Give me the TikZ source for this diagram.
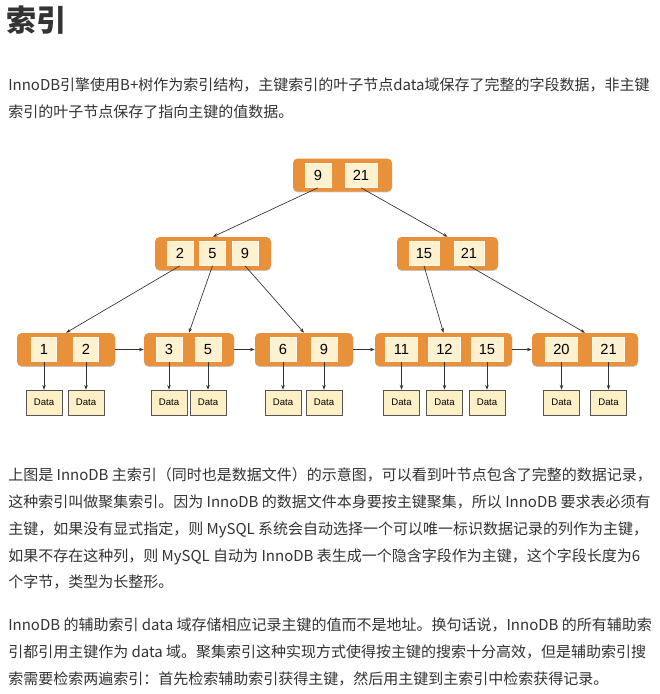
\documentclass[tikz,border=0pt]{standalone}
\usepackage{fontspec}
\setmainfont{Noto Sans CJK SC}
\newfontfamily\arialfont{Liberation Sans}
\usetikzlibrary{arrows.meta,shadows}
\definecolor{txt}{HTML}{333333}
\definecolor{org}{HTML}{E8913A}
\definecolor{cream}{HTML}{FEF1D0}
\definecolor{datafill}{HTML}{FDEFC6}
\definecolor{databorder}{HTML}{555555}
\definecolor{edge}{HTML}{333333}
\tikzset{
  orangebox/.style={fill=org, rounded corners=3.5pt, inner sep=0pt,
    minimum width=#1*0.75pt, minimum height=33*0.75pt,
    drop shadow={shadow xshift=0pt, shadow yshift=-0.7pt, opacity=0.3, fill=black!70}},
  cellbox/.style={fill=cream, draw=white!60!cream, line width=0.4pt, inner sep=0pt,
    minimum width=#1*0.75pt, minimum height=24*0.75pt,
    font=\arialfont\fontsize{11}{13}\selectfont, text=black},
  databox/.style={fill=datafill, draw=databorder, line width=0.5pt, inner sep=0pt,
    minimum width=36*0.75pt, minimum height=25*0.75pt,
    font=\arialfont\fontsize{7.2}{8}\selectfont, text=black},
  link/.style={draw=edge, line width=0.5pt, -{Stealth[length=3.5pt,width=2.6pt]}},
  txtline/.style={anchor=base west, inner sep=0pt, text=txt, font=\fontsize{11.25}{13}\selectfont}
}
\begin{document}
\begin{tikzpicture}[x=0.75pt,y=-0.75pt]
\fill[white] (0,0) rectangle (660,694);
\useasboundingbox (0,0) rectangle (660,694);

% heading and text
\node[anchor=west, inner sep=0pt, text=txt, font=\bfseries\fontsize{22.5}{25}\selectfont] (title) at (6,20) {索引};
\node[txtline] (p1a) at (8,90.7) {InnoDB引擎使用B+树作为索引结构，主键索引的叶子节点data域保存了完整的字段数据，非主键};
\node[txtline] (p1b) at (8,117.7) {索引的叶子节点保存了指向主键的值数据。};

\node[txtline] (p2a) at (8,480.7) {上图是 InnoDB 主索引（同时也是数据文件）的示意图，可以看到叶节点包含了完整的数据记录，};
\node[txtline] (p2b) at (8,507.7) {这种索引叫做聚集索引。因为 InnoDB 的数据文件本身要按主键聚集，所以 InnoDB 要求表必须有};
\node[txtline] (p2c) at (8,534.7) {主键，如果没有显式指定，则 MySQL 系统会自动选择一个可以唯一标识数据记录的列作为主键，};
\node[txtline] (p2d) at (8,561.7) {如果不存在这种列，则 MySQL 自动为 InnoDB 表生成一个隐含字段作为主键，这个字段长度为6};
\node[txtline] (p2e) at (8,587.7) {个字节，类型为长整形。};

\node[txtline] (p3a) at (8,630.7) {InnoDB 的辅助索引 data 域存储相应记录主键的值而不是地址。换句话说，InnoDB 的所有辅助索};
\node[txtline] (p3b) at (8,657.7) {引都引用主键作为 data 域。聚集索引这种实现方式使得按主键的搜索十分高效，但是辅助索引搜};
\node[txtline] (p3c) at (8,684.7) {索需要检索两遍索引：首先检索辅助索引获得主键，然后用主键到主索引中检索获得记录。};

% root
\node[orangebox=99] (R) at (342.5,175) {};
\node[cellbox=26] (R1) at (318,175.5) {9};
\node[cellbox=32] (R2) at (361,175.5) {21};

% level 2
\node[orangebox=116] (A) at (213,253.5) {};
\node[cellbox=26] (A1) at (180,253.5) {2};
\node[cellbox=26] (A2) at (212.5,253.5) {5};
\node[cellbox=26] (A3) at (245,253.5) {9};

\node[orangebox=101] (B) at (447.5,253.5) {};
\node[cellbox=30] (B1) at (424,253.5) {15};
\node[cellbox=30] (B2) at (469,253.5) {21};

% leaves
\node[orangebox=98] (L1) at (66,349.5) {};
\node[cellbox=25] (L1a) at (44,349.5) {1};
\node[cellbox=25] (L1b) at (86,349.5) {2};

\node[orangebox=90] (L2) at (189,349.5) {};
\node[cellbox=26] (L2a) at (169,349.5) {3};
\node[cellbox=26] (L2b) at (208,349.5) {5};

\node[orangebox=98] (L3) at (304,349.5) {};
\node[cellbox=26] (L3a) at (283,349.5) {6};
\node[cellbox=26] (L3b) at (324,349.5) {9};

\node[orangebox=137] (L4) at (443.5,349.5) {};
\node[cellbox=32] (L4a) at (401.5,349.5) {11};
\node[cellbox=32] (L4b) at (444.5,349.5) {12};
\node[cellbox=32] (L4c) at (487,349.5) {15};

\node[orangebox=106] (L5) at (585,349.5) {};
\node[cellbox=32] (L5a) at (561.5,349.5) {20};
\node[cellbox=32] (L5b) at (608.5,349.5) {21};

% data boxes
\foreach \n/\x in {d1/44, d2/86, d3/169, d4/208, d5/283, d6/324, d7/401.5, d8/444.5, d9/487, d10/561.5, d11/608.5}
  \node[databox] (\n) at (\x,402.5) {Data};

% tree edges
\draw[link] (R1.south) -- (A.north);
\draw[link] (R2.south) -- (B.north);
\draw[link] (A1.south) -- (L1.north);
\draw[link] (A2.south) -- (L2.north);
\draw[link] (A3.south) -- (L3.north);
\draw[link] (B1.south) -- (L4.north);
\draw[link] (B2.south) -- (L5.north);

% leaf chain
\draw[link] (L1.east) -- (L2.west);
\draw[link] (L2.east) -- (L3.west);
\draw[link] (L3.east) -- (L4.west);
\draw[link] (L4.east) -- (L5.west);

% leaf to data
\draw[link] (L1a.south) -- (d1.north);
\draw[link] (L1b.south) -- (d2.north);
\draw[link] (L2a.south) -- (d3.north);
\draw[link] (L2b.south) -- (d4.north);
\draw[link] (L3a.south) -- (d5.north);
\draw[link] (L3b.south) -- (d6.north);
\draw[link] (L4a.south) -- (d7.north);
\draw[link] (L4b.south) -- (d8.north);
\draw[link] (L4c.south) -- (d9.north);
\draw[link] (L5a.south) -- (d10.north);
\draw[link] (L5b.south) -- (d11.north);
\end{tikzpicture}
\end{document}
